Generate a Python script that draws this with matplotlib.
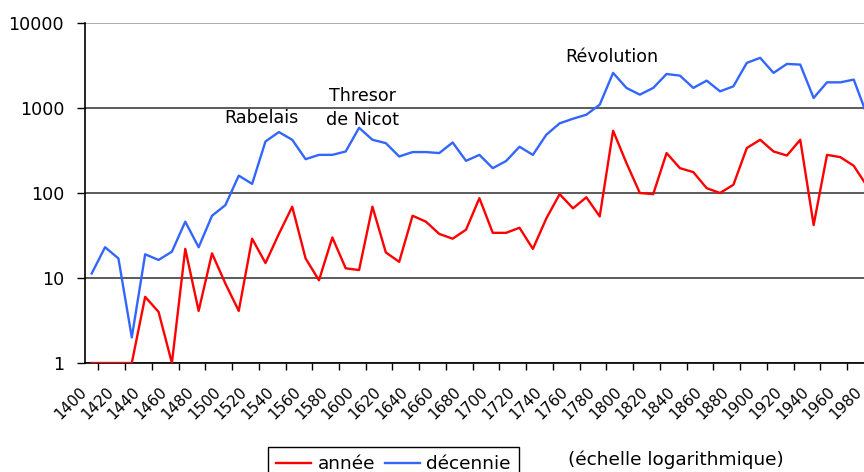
import matplotlib
matplotlib.use("Agg")
import matplotlib.pyplot as plt
import matplotlib.transforms as mtrans
import numpy as np

# categories (one per decade)
years = list(range(1400, 1990, 10))

# occurrences
annee = [1, 1, 1, 1, 6, 4, 1, 22, 4.1, 19.5,
         8.6, 4.1, 29, 15, 33, 69, 17, 9.4, 30, 13,
         12.4, 69, 20, 15.5, 54, 46, 33, 29, 37, 87,
         34, 34, 39, 22, 50, 97, 66, 89, 53, 540,
         225, 100, 97, 295, 196, 176, 114, 100, 125, 338,
         423, 308, 276, 423, 42, 281, 264, 209, 120]
decennie = [11.3, 23, 17, 2.0, 19, 16.3, 20.4, 46, 23, 54,
            72, 160, 128, 404, 521, 423, 250, 281, 281, 308,
            585, 423, 386, 269, 303, 303, 295, 393, 239, 281,
            196, 238, 350, 281, 484, 660, 748, 834, 1094, 2588,
            1722, 1436, 1722, 2512, 2404, 1722, 2099, 1570, 1799, 3396,
            3890, 2588, 3300, 3240, 1312, 2004, 2004, 2158, 820]

label_years = list(range(1400, 1990, 20))
y_ticks = [1, 10, 100, 1000, 10000]

plt.rcParams['font.family'] = ['DejaVu Sans']
fs = 12.6
fs_x = 11
fs_leg = 13.3

fig = plt.figure(figsize=(8.64, 4.72), dpi=100)
ax = fig.add_axes([85/864, 109/472, 788.8/864, 340/472])

ax.plot(years, annee, color='#ff0000', lw=1.7, label='année', zorder=3)
ax.plot(years, decennie, color='#3366ff', lw=1.7, label='décennie', zorder=3)

ax.set_yscale('log')
ax.set_yticks(y_ticks)
ax.set_yticklabels([str(v) for v in y_ticks], fontsize=fs)
ax.yaxis.set_minor_locator(matplotlib.ticker.NullLocator())
ax.tick_params(axis='y', which='major', direction='out', length=6, width=1, pad=9)

# labels sit on the category boundary, nudged left a few pixels
ax.set_xticks([y - 5 for y in label_years])
ax.set_xticklabels([str(y) for y in label_years], rotation=45, ha='right',
                   va='top', rotation_mode='anchor', fontsize=fs_x)
ax.set_xticks(np.arange(1395, 1990, 10), minor=True)
ax.tick_params(axis='x', which='major', length=0, pad=15)
ax.tick_params(axis='x', which='minor', direction='out', length=5, width=1)
shift = mtrans.ScaledTranslation(-6/100, 0, fig.dpi_scale_trans)
for lab in ax.get_xticklabels():
    lab.set_transform(lab.get_transform() + shift)

ax.set_xlim(1395, 1985)
ax.set_ylim(1, 10000)

ax.grid(axis='y', which='major', color='#404040', lw=1.2)
ax.get_ygridlines()[-1].set_color('#a0a0a0')
for s in ['top', 'right']:
    ax.spines[s].set_visible(False)
for s in ['left', 'bottom']:
    ax.spines[s].set_color('black')
    ax.spines[s].set_linewidth(1.2)

ax.text(1526.6, 671, 'Rabelais', fontsize=fs, ha='center', va='baseline')
ax.text(1602.9, 1196, 'Thresor', fontsize=fs, ha='center', va='baseline')
ax.text(1602.9, 635, 'de Nicot', fontsize=fs, ha='center', va='baseline')
ax.text(1789.2, 3450, 'Révolution', fontsize=fs, ha='center', va='baseline')

leg = fig.legend(loc='upper left', bbox_to_anchor=(268/864, 1 - 447/472),
                 ncol=2, fontsize=fs_leg, frameon=True, fancybox=False,
                 edgecolor='black', framealpha=1, borderaxespad=0,
                 handlelength=1.9, handletextpad=0.35, columnspacing=0.5,
                 borderpad=0.45)
leg.get_frame().set_linewidth(1.0)

fig.text(568/864, 1 - 460/472, '(échelle logarithmique)', fontsize=fs_leg,
         ha='left', va='center')

fig.savefig('out.png', dpi=100)
